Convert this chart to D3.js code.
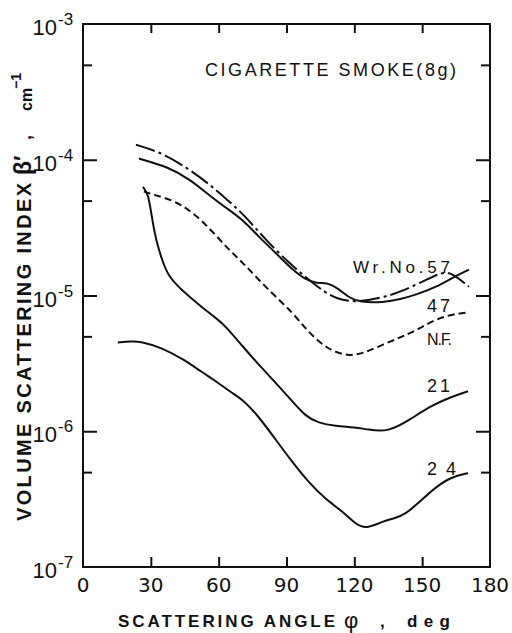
<!DOCTYPE html>
<html>
<head>
<meta charset="utf-8">
<script src="https://cdn.jsdelivr.net/npm/d3@7"></script>
<style>
  body { margin: 0; background: #fff; }
  svg { display: block; }
  text { fill: #111; font-family: "Liberation Sans", "DejaVu Sans", sans-serif; }
</style>
</head>
<body>
<svg id="chart" width="512" height="633"></svg>
<script>
// Axis ticks
const xTickValues = [0, 30, 60, 90, 120, 150, 180];
const yDecadeExponents = [-7, -6, -5, -4, -3];
const yMinorTickValues = [5e-7, 5e-6, 5e-5, 5e-4];

// Volume scattering index (cm^-1) against scattering angle (deg)
const wrNo57 = [
  [23.4, 1.29e-4], [35.7, 1.12e-4], [52.1, 7.5e-5], [65.3, 4.83e-5], [71.9, 3.81e-5],
  [80.7, 2.58e-5], [90.9, 1.75e-5], [99.7, 1.31e-5], [107.2, 1.05e-5], [112.9, 9.35e-6],
  [120.9, 8.9e-6], [132.8, 9.67e-6], [141.5, 1.08e-5], [152.0, 1.31e-5], [158.5, 1.48e-5],
  [163.0, 1.48e-5], [170.7, 1.16e-5]
];
const wr47 = [
  [24.7, 1.02e-4], [37.5, 8.9e-5], [47.6, 7.13e-5], [56.5, 5.35e-5], [64.4, 4.29e-5],
  [70.6, 3.62e-5], [77.6, 2.72e-5], [85.1, 2.07e-5], [92.6, 1.55e-5], [98.4, 1.31e-5],
  [103.7, 1.22e-5], [107.6, 1.25e-5], [112.9, 1.13e-5], [117.4, 9.67e-6], [122.6, 8.9e-6],
  [132.8, 8.9e-6], [140.3, 9.35e-6], [147.8, 1.02e-5], [156.6, 1.16e-5], [163.7, 1.36e-5],
  [170.7, 1.55e-5]
];
const nf = [
  [26.9, 5.82e-5], [31.3, 5.53e-5], [41.9, 4.91e-5], [50.7, 3.81e-5], [57.8, 2.9e-5],
  [64.4, 2.18e-5], [70.6, 1.75e-5], [77.6, 1.31e-5], [85.1, 9.84e-6], [92.6, 7.5e-6],
  [98.4, 5.71e-6], [104.1, 4.59e-6], [110.3, 3.87e-6], [118.2, 3.56e-6], [124.9, 3.81e-6],
  [132.8, 4.36e-6], [140.3, 4.91e-6], [147.4, 5.53e-6], [154.9, 6.55e-6], [162.4, 7.24e-6],
  [170.7, 7.5e-6]
];
const wr21 = [
  [26.5, 6.3e-5], [28.9, 5.6e-5], [30.4, 3.81e-5], [32.2, 2.58e-5], [35.3, 1.75e-5],
  [37.9, 1.38e-5], [43.2, 1.11e-5], [52.1, 8.3e-6], [59.6, 6.67e-6], [63.0, 5.95e-6],
  [70.6, 4.22e-6], [77.6, 3.11e-6], [85.1, 2.29e-6], [92.6, 1.66e-6], [98.4, 1.29e-6],
  [104.1, 1.15e-6], [111.6, 1.09e-6], [120.4, 1.07e-6], [125.7, 1.03e-6], [135.0, 9.84e-7],
  [144.7, 1.22e-6], [153.5, 1.53e-6], [162.4, 1.78e-6], [170.3, 1.97e-6]
];
const wr24 = [
  [15.4, 4.51e-6], [21.2, 4.59e-6], [25.6, 4.59e-6], [34.4, 4.15e-6], [44.6, 3.38e-6],
  [52.1, 2.76e-6], [59.6, 2.29e-6], [65.3, 1.94e-6], [70.6, 1.72e-6], [77.6, 1.29e-6],
  [85.1, 8.73e-7], [92.6, 5.92e-7], [99.7, 4.22e-7], [107.2, 3.16e-7], [114.7, 2.58e-7],
  [120.4, 2.07e-7], [125.3, 1.9e-7], [132.8, 2.18e-7], [138.1, 2.29e-7], [142.5, 2.45e-7],
  [147.8, 2.9e-7], [154.9, 3.75e-7], [162.4, 4.59e-7], [170.3, 4.91e-7]
];

const svg = d3.select("#chart");
const plot = { left: 83, right: 490, top: 24, bottom: 567 };

const x = d3.scaleLinear().domain([0, 180]).range([plot.left, plot.right]);
const y = d3.scaleLog().domain([1e-7, 1e-3]).range([plot.bottom, plot.top]);

const ink = "#111";

// Frame
svg.append("rect")
  .attr("x", plot.left).attr("y", plot.top)
  .attr("width", plot.right - plot.left).attr("height", plot.bottom - plot.top)
  .attr("fill", "none").attr("stroke", ink).attr("stroke-width", 2);

// Inward ticks on all four sides
const innerX = xTickValues.slice(1, -1);
svg.append("g").attr("transform", `translate(0,${plot.bottom})`)
  .call(d3.axisTop(x).tickValues(innerX).tickSize(10).tickFormat(""));
svg.append("g").attr("transform", `translate(0,${plot.top})`)
  .call(d3.axisBottom(x).tickValues(innerX).tickSize(9).tickFormat(""));

const majorY = yDecadeExponents.slice(1, -1).map(e => Math.pow(10, e));
svg.append("g").attr("transform", `translate(${plot.left},0)`)
  .call(d3.axisRight(y).tickValues(majorY).tickSize(14).tickFormat(""));
svg.append("g").attr("transform", `translate(${plot.left},0)`)
  .call(d3.axisRight(y).tickValues(yMinorTickValues).tickSize(9).tickFormat(""));
svg.append("g").attr("transform", `translate(${plot.right},0)`)
  .call(d3.axisLeft(y).tickValues(majorY).tickSize(14).tickFormat(""));
svg.append("g").attr("transform", `translate(${plot.right},0)`)
  .call(d3.axisLeft(y).tickValues(yMinorTickValues).tickSize(9).tickFormat(""));
svg.selectAll(".domain").remove();
svg.selectAll(".tick line").attr("stroke", ink).attr("stroke-width", 2);

// X tick labels
svg.append("g").selectAll("text").data(xTickValues).join("text")
  .attr("x", d => x(d)).attr("y", 592)
  .attr("text-anchor", "middle")
  .attr("font-size", 20)
  .style("font-family", "'DejaVu Sans', sans-serif")
  .text(d => d);

// Y tick labels: 10 with a superscript exponent
const yLab = svg.append("g").selectAll("g").data(yDecadeExponents).join("g")
  .attr("transform", e => `translate(57,${y(Math.pow(10, e))})`);
yLab.append("text")
  .attr("x", 0).attr("y", 11)
  .attr("text-anchor", "end")
  .attr("font-size", 22)
  .text("10");
yLab.append("text")
  .attr("x", 1).attr("y", 1)
  .attr("font-size", 17)
  .text(e => "-" + Math.abs(e));

// Curves
const line = d3.line()
  .x(d => x(d[0])).y(d => y(d[1]))
  .curve(d3.curveBasis);

const series = [
  { data: wrNo57, dash: "20,4,3,4" },
  { data: wr47, dash: null },
  { data: nf, dash: "7,4" },
  { data: wr21, dash: null },
  { data: wr24, dash: null }
];
svg.append("g").selectAll("path").data(series).join("path")
  .attr("d", s => line(s.data))
  .attr("fill", "none")
  .attr("stroke", ink)
  .attr("stroke-width", 2)
  .attr("stroke-linejoin", "round")
  .attr("stroke-dasharray", s => s.dash);

// Curve labels
const labels = [
  { text: "Wr.No.57", x: 353, y: 273, len: 97, size: 17 },
  { text: "47", x: 427, y: 312, len: 23, size: 18 },
  { text: "N.F.", x: 427, y: 345, len: 25, size: 16 },
  { text: "21", x: 427, y: 392, len: 23, size: 18 },
  { text: "24", x: 427, y: 475, len: 29, size: 18 }
];
svg.append("g").selectAll("text").data(labels).join("text")
  .attr("x", d => d.x).attr("y", d => d.y)
  .attr("font-size", d => d.size)
  .attr("textLength", d => d.len)
  .attr("lengthAdjust", "spacing")
  .text(d => d.text);

// Title inside the plot
svg.append("text")
  .attr("x", 205).attr("y", 76)
  .attr("font-size", 18)
  .attr("textLength", 251)
  .attr("lengthAdjust", "spacing")
  .text("CIGARETTE SMOKE(8g)");

// X axis title
const xt = svg.append("g").attr("font-weight", "bold");
xt.append("text").attr("x", 118).attr("y", 627).attr("font-size", 17)
  .attr("textLength", 217).attr("lengthAdjust", "spacing")
  .text("SCATTERING ANGLE");
xt.append("text").attr("x", 344).attr("y", 628).attr("font-size", 22)
  .attr("font-weight", "normal").text("φ");
xt.append("text").attr("x", 380).attr("y", 627).attr("font-size", 17).text(",");
xt.append("text").attr("x", 407).attr("y", 627).attr("font-size", 17)
  .attr("textLength", 43).attr("lengthAdjust", "spacing").text("deg");

// Y axis title (rotated)
const yt = svg.append("g").attr("font-weight", "bold");
yt.append("text").attr("transform", "translate(31,521) rotate(-90)")
  .attr("font-size", 20)
  .attr("textLength", 338).attr("lengthAdjust", "spacing")
  .text("VOLUME SCATTERING INDEX");
yt.append("text").attr("transform", "translate(31,175) rotate(-90)")
  .attr("font-size", 23).text("β′");
yt.append("text").attr("transform", "translate(31,140) rotate(-90)")
  .attr("font-size", 18).text(",");
yt.append("text").attr("transform", "translate(32,111) rotate(-90)")
  .attr("font-size", 16).text("cm");
yt.append("text").attr("transform", "translate(21,89) rotate(-90)")
  .attr("font-size", 14).text("−1");
</script>
</body>
</html>
